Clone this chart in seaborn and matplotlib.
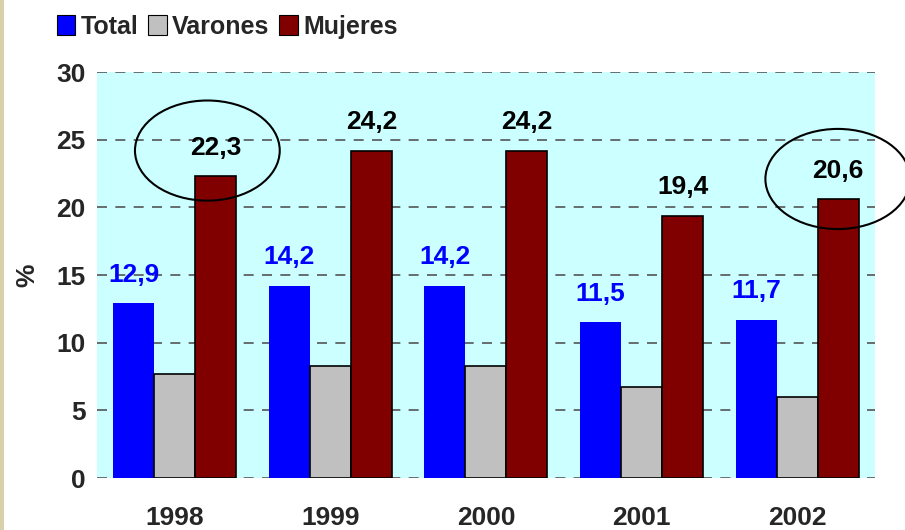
import pandas as pd
import numpy as np
import matplotlib
matplotlib.use('Agg')
import matplotlib.pyplot as plt
import seaborn as sns
from matplotlib.patches import Ellipse, Rectangle

# data
years = ['1998', '1999', '2000', '2001', '2002']
total = [12.9, 14.2, 14.2, 11.5, 11.7]
varones = [7.7, 8.3, 8.3, 6.7, 6.0]
mujeres = [22.3, 24.2, 24.2, 19.4, 20.6]
series = ['Total', 'Varones', 'Mujeres']
colors = ['#0000FF', '#C0C0C0', '#800000']

df = pd.DataFrame({
    'year': years * 3,
    'serie': sum([[s] * len(years) for s in series], []),
    'valor': total + varones + mujeres,
})

sns.set_theme(style='white')
plt.rcParams['font.family'] = ['Liberation Sans', 'DejaVu Sans']
plt.rcParams['font.weight'] = 'bold'

fig = plt.figure(figsize=(9.05, 5.30), dpi=100)
ax = fig.add_axes([0.107, 0.098, 0.860, 0.766])
ax.set_facecolor('#CCFFFF')

sns.barplot(data=df, x='year', y='valor', hue='serie', palette=colors,
            width=0.79, saturation=1, ax=ax, zorder=3)

# edges: Total without edge, others black
for i, cont in enumerate(ax.containers):
    for bar in cont:
        if i == 0:
            bar.set_edgecolor('none')
        else:
            bar.set_edgecolor('black')
            bar.set_linewidth(1.2)

# value labels
for i, cont in enumerate(ax.containers):
    if i == 1:
        continue
    col = '#0000FF' if i == 0 else 'black'
    vals = total if i == 0 else mujeres
    for bar, v in zip(cont, vals):
        ax.annotate(f'{v:.1f}'.replace('.', ','),
                    (bar.get_x() + bar.get_width() / 2, bar.get_height()),
                    xytext=(0, 12), textcoords='offset points',
                    ha='center', va='bottom', color=col,
                    fontsize=19, fontweight='bold', zorder=5)

ax.set_ylim(0, 30)
ax.set_xlim(-0.5, 4.5)
ax.set_yticks(range(0, 31, 5))
ax.yaxis.grid(True, linestyle=(0, (6, 5)), color='#555555', linewidth=1.2, zorder=1)
ax.set_axisbelow(True)
for s in ax.spines.values():
    s.set_visible(False)
ax.tick_params(axis='both', length=0, labelsize=19, pad=8)
ax.tick_params(axis='x', pad=20)
for lab in ax.get_xticklabels() + ax.get_yticklabels():
    lab.set_fontweight('bold')
ax.set_xlabel('')
ax.set_ylabel('%', fontsize=19, fontweight='bold', labelpad=12)

# ellipses around highlighted values
for cx, cy in [(0.21, 24.2), (4.26, 22.1)]:
    e = Ellipse((cx, cy), 0.93, 7.4, fill=False, edgecolor='black',
                linewidth=1.5, clip_on=False, zorder=6)
    ax.add_patch(e)

ax.legend(loc='upper left', bbox_to_anchor=(0.046, 1.0), bbox_transform=fig.transFigure,
          ncol=3, frameon=False, fontsize=18, handlelength=0.75, handleheight=0.85,
          handletextpad=0.2, columnspacing=0.4, borderaxespad=0.2)
leg = ax.get_legend()
for t in leg.get_texts():
    t.set_fontweight('bold')
for h in leg.legend_handles:
    h.set_edgecolor('black')
    h.set_linewidth(0.8)

# thin beige strip at left edge
fig.patches.append(Rectangle((0, 0), 0.004, 1, transform=fig.transFigure,
                             facecolor='#D8D0A8', edgecolor='none'))

fig.savefig('out.png', dpi=100)
